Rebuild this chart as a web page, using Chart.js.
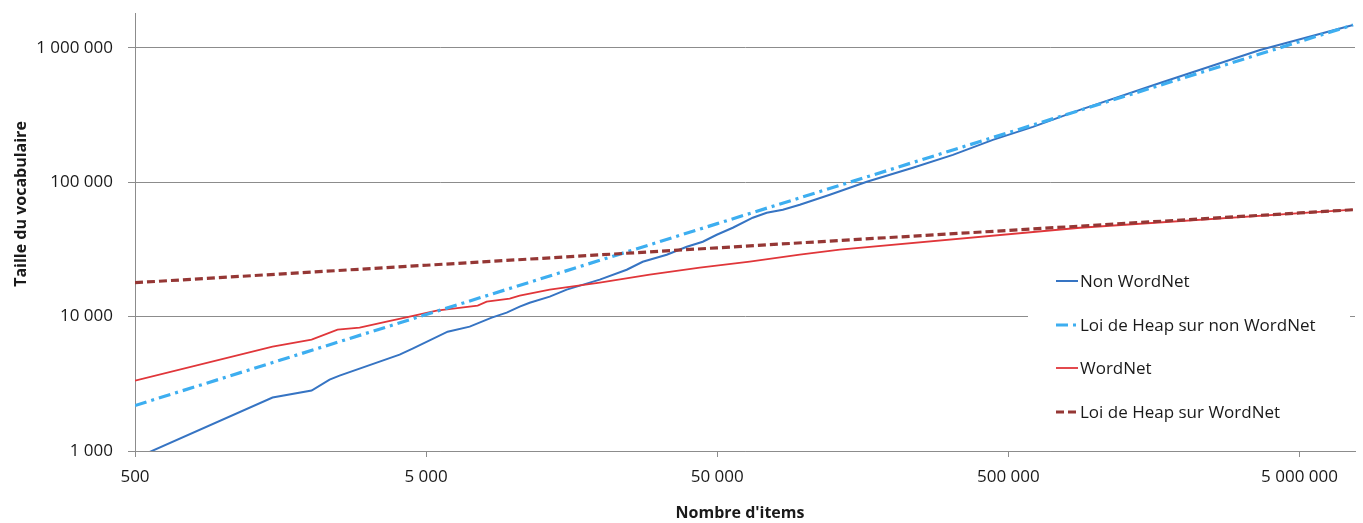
<!DOCTYPE html>
<html>
<head>
<meta charset="utf-8">
<script src="https://cdn.jsdelivr.net/npm/chart.js@4.4.1/dist/chart.umd.min.js"></script>
<style>
  html, body { margin: 0; padding: 0; background: #ffffff; }
  #wrap { width: 1363px; height: 523px; position: relative; }
</style>
</head>
<body>
<div id="wrap"><canvas id="chart" width="1363" height="523"></canvas></div>
<script>
// ---- Data ----
const xTickValues = [500, 5000, 50000, 500000, 5000000];
const yTickValues = [1000, 10000, 100000, 1000000];
const seriesNames = ["Non WordNet", "Loi de Heap sur non WordNet", "WordNet", "Loi de Heap sur WordNet"];
const xAxisTitle = "Nombre d'items";
const yAxisTitle = "Taille du vocabulaire";

const nonWordNetX = [500, 1484, 2021, 2330, 2521, 4054, 4492, 5928, 7056, 8399, 9454, 10480, 11340, 13290, 15200, 19740, 24430, 27730, 33530, 39290, 44590, 49800, 56540, 66220, 73950, 83990, 96040, 121800, 163200, 234900, 322400, 442300, 607000, 880600, 1658000, 3658000, 7635000];
const nonWordNetY = [880, 2500, 2818, 3400, 3640, 5210, 5780, 7730, 8430, 9840, 10720, 11860, 12700, 14090, 15880, 18850, 22350, 25630, 28900, 33130, 36100, 40700, 45900, 54500, 59300, 62500, 68100, 80800, 101000, 128300, 160000, 207000, 258700, 346000, 549000, 966000, 1483000];

const heapNonWordNetX = [500, 5000, 50000, 500000, 5000000, 7635000];
const heapNonWordNetY = [2179, 10360, 49230, 234100, 1114000, 1483000];

const wordNetX = [500, 1484, 2021, 2482, 2954, 3658, 4388, 5433, 7516, 8071, 9681, 10480, 13290, 19740, 29300, 43550, 64650, 96040, 131800, 880600, 7635000];
const wordNetY = [3340, 5980, 6745, 8000, 8280, 9180, 10000, 11080, 12090, 12940, 13630, 14330, 15880, 17900, 20520, 23130, 25630, 28900, 31500, 45900, 62500];

const heapWordNetX = [500, 5000, 50000, 500000, 5000000, 7635000];
const heapWordNetY = [17900, 24130, 32530, 43850, 59130, 62450];

// ---- Helpers ----
const FONT = "'Open Sans', 'DejaVu Sans', sans-serif";
const GRID = '#8c8c8c';
const TEXT = '#1a1a1a';
const fmt = v => String(Math.round(v)).replace(/\B(?=(\d{3})+(?!\d))/g, ' ');
const pts = (xs, ys) => xs.map((x, i) => ({ x: x, y: ys[i] }));

const styles = [
  { color: '#3674c3', width: 2,   dash: [] },
  { color: '#3daef0', width: 3.2, dash: [12, 5, 3, 5] },
  { color: '#e0363a', width: 1.8, dash: [] },
  { color: '#953735', width: 3.2, dash: [8, 4] }
];
const seriesData = [
  pts(nonWordNetX, nonWordNetY),
  pts(heapNonWordNetX, heapNonWordNetY),
  pts(wordNetX, wordNetY),
  pts(heapWordNetX, heapWordNetY)
];
const drawOrder = [3, 1, 2, 0];

const datasets = seriesNames.map((name, i) => ({
  label: name,
  data: seriesData[i],
  borderColor: styles[i].color,
  backgroundColor: styles[i].color,
  borderWidth: styles[i].width,
  borderDash: styles[i].dash,
  pointRadius: 0,
  pointHoverRadius: 0,
  tension: 0,
  fill: false,
  order: drawOrder[i]
}));

// Legend inside the plot + axis titles
const decorPlugin = {
  id: 'decor',
  afterDraw(chart) {
    const ctx = chart.ctx;
    ctx.save();
    ctx.fillStyle = '#ffffff';
    ctx.fillRect(1028, 252, 322, 186);
    const ys = [281, 325, 368, 412];
    ctx.font = "17px " + FONT;
    ctx.textBaseline = 'middle';
    ctx.textAlign = 'left';
    seriesNames.forEach((name, i) => {
      ctx.save();
      ctx.strokeStyle = styles[i].color;
      ctx.lineWidth = styles[i].width;
      ctx.setLineDash(styles[i].dash);
      ctx.beginPath();
      ctx.moveTo(1056, ys[i]);
      ctx.lineTo(1078, ys[i]);
      ctx.stroke();
      ctx.restore();
      ctx.fillStyle = TEXT;
      ctx.fillText(name, 1080, ys[i] + 1);
    });
    ctx.font = "bold 16px " + FONT;
    ctx.fillStyle = TEXT;
    ctx.textAlign = 'center';
    ctx.textBaseline = 'middle';
    ctx.fillText(xAxisTitle, 740, 513);
    ctx.save();
    ctx.translate(21, 204);
    ctx.rotate(-Math.PI / 2);
    ctx.fillText(yAxisTitle, 0, 0);
    ctx.restore();
    ctx.restore();
  }
};

new Chart(document.getElementById('chart'), {
  type: 'line',
  data: { datasets: datasets },
  options: {
    responsive: false,
    animation: false,
    devicePixelRatio: 1,
    layout: { padding: { top: 13, right: 8, left: 0, bottom: 0 } },
    plugins: { legend: { display: false }, tooltip: { enabled: false }, title: { display: false } },
    scales: {
      x: {
        type: 'logarithmic',
        min: 500,
        max: 7755000,
        afterBuildTicks: s => { s.ticks = xTickValues.map(v => ({ value: v })); },
        afterFit: s => { s.height = 72; s.paddingLeft = 0; s.paddingRight = 0; },
        ticks: {
          autoSkip: false, maxRotation: 0, minRotation: 0, padding: 10,
          color: TEXT, font: { family: FONT, size: 17 },
          callback: v => fmt(v)
        },
        grid: { drawOnChartArea: false, drawTicks: true, tickLength: 6, color: GRID, lineWidth: 1 },
        border: { display: true, color: GRID, width: 1 }
      },
      y: {
        type: 'logarithmic',
        min: 1000,
        max: 1820000,
        afterBuildTicks: s => { s.ticks = yTickValues.map(v => ({ value: v })); },
        afterFit: s => { s.width = 135; s.paddingTop = 0; s.paddingBottom = 0; },
        ticks: {
          autoSkip: false, padding: 15,
          color: TEXT, font: { family: FONT, size: 17 },
          callback: v => fmt(v)
        },
        grid: { drawOnChartArea: true, drawTicks: true, tickLength: 7, color: GRID, lineWidth: 1 },
        border: { display: true, color: GRID, width: 1 }
      }
    }
  },
  plugins: [decorPlugin]
});
</script>
</body>
</html>
